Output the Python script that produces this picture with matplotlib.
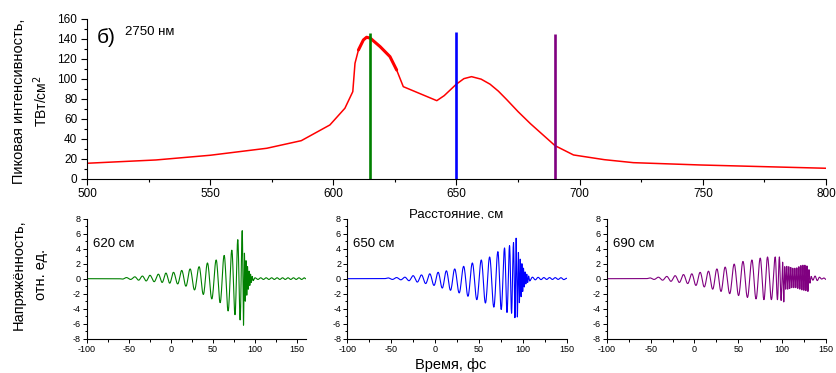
import numpy as np
import matplotlib
matplotlib.use("Agg")
import matplotlib.pyplot as plt
from matplotlib.ticker import MultipleLocator

plt.rcParams['font.family'] = ['Liberation Sans', 'DejaVu Sans']
plt.rcParams['axes.unicode_minus'] = False

# peak intensity vs distance
dist_cm = [500, 528, 550, 573, 587, 598.6, 604.7, 607.9, 608.8, 610.2, 612.2, 613.5,
           615, 619, 623, 625.7, 628.4, 642, 645, 649.9, 653, 656.1, 660, 663.6,
           667, 670.4, 675, 680, 685, 690, 697.5, 710, 721.8, 748.8, 775, 800]
intensity = [15.4, 18.7, 23.4, 30.4, 38, 53.7, 70.4, 87, 115.4, 128.7, 138.7, 141.4,
             140.5, 132, 122, 108.7, 92, 78, 83, 94.4, 100, 102, 99.5, 94.5,
             87.5, 79, 67, 55, 44, 33, 23.7, 19, 16, 13.7, 12, 10.4]
marker_pos = [615, 650, 690]
marker_top = [145.4, 146.4, 145]
marker_col = ['#008000', '#0000ff', '#800080']

# field extrema (time fs, value) for each waveform
t620 = [-100, -62, -57.5, -53, -48, -43, -38.5, -34, -29.5, -25, -20, -15, -10.5, -6, -1.5,
        3, 8, 12.8, 17.8, 22.8, 28, 33.5, 38.5, 43.4, 48.6, 53.8, 58.5, 63.3, 68, 72.4,
        76.2, 79.5, 82.3, 84.8, 86.3, 87.4, 88.4, 89.3, 90.2, 91.1, 92.0, 92.9, 93.8,
        94.7, 95.6, 96.6, 97.8, 100, 103.5, 106.8, 110, 113.3, 116.5, 119.8, 123, 126.3,
        129.5, 132.8, 136, 139.3, 142.5, 145.8, 149, 152.3, 155.5, 158.8, 160]
e620 = [0, 0, -0.05, 0.15, -0.1, 0.25, -0.2, 0.35, -0.3, 0.45, -0.4, 0.6, -0.5, 0.75, -0.6,
        0.85, -0.7, 1.1, -1.0, 1.3, -1.5, 1.6, -2.1, 2.1, -2.7, 2.5, -3.2, 3.1, -4.3, 3.8,
        -4.8, 5.2, -5.5, 6.4, -6.2, 3.4, -3.0, 2.4, -2.2, 1.6, -1.4, 1.0, -0.9,
        0.6, -0.5, 0.3, -0.25, 0.12, -0.1, 0.12, -0.1, 0.12, -0.1, 0.12, -0.1, 0.12,
        -0.1, 0.12, -0.1, 0.12, -0.1, 0.12, -0.1, 0.12, -0.1, 0.12, 0]

t650 = [-100, -58, -53.4, -48.6, -43.9, -39, -34.4, -29.7, -25, -20.2, -15.5, -10.7, -6,
        -1.2, 3.5, 8.2, 12.9, 17.6, 22.4, 27.5, 32.6, 37.5, 42.5, 47.6, 52.7, 57.4, 62.2,
        67, 71.6, 75.4, 79.2, 82, 84.9, 87.2, 89.4, 91, 92.4, 93.8, 95, 96.1, 97.1, 98.1,
        99, 99.9, 100.8, 101.7, 102.6, 103.5, 104.5, 105.5, 106.6, 107.8, 111, 114.3,
        117.5, 120.8, 124, 127.3, 130.5, 133.8, 137, 140.3, 143.5, 146.8, 150]
e650 = [0, 0, 0.1, -0.1, 0.15, -0.15, 0.2, -0.27, 0.4, -0.45, 0.5, -0.65, 0.65,
        -0.9, 0.85, -1.25, 1.05, -1.55, 1.3, -1.9, 1.65, -2.35, 2.1, -2.8, 2.5, -3.25, 2.9,
        -3.8, 3.6, -4.1, 4.1, -4.5, 4.4, -4.6, 4.8, -5.2, 5.4, -5.1, 3.5, -3.2, 2.6, -2.4,
        2.0, -1.7, 1.4, -1.1, 0.9, -0.7, 0.6, -0.5, 0.35, -0.3, 0.2, -0.15,
        0.18, -0.12, 0.15, -0.1, 0.15, -0.1, 0.14, -0.1, 0.13, -0.12, 0.05]

t690 = [-100, -55, -50.6, -46, -41.1, -36.3, -31.5, -26.8, -22, -17.2, -12.5, -7.7, -3,
        1.7, 6.5, 11.2, 16, 20.8, 25.6, 30.3, 35, 40.2, 45.3, 50.3, 55.3, 60.4, 65.5,
        70.2, 75, 79.2, 83.3, 87.7, 92.1, 94.6, 96.8, 98.8, 100.5, 101.8, 102.9, 104.0,
        105.2, 106.3, 107.5, 108.6, 109.8, 110.9, 112.1, 113.2, 114.4, 115.5, 116.7,
        117.8, 119.0, 120.1, 121.3, 122.4, 123.6, 124.7, 125.9, 127.0, 128.2, 129.3,
        130.5, 131.6, 133, 135, 137.5, 140, 142.5, 145, 147.5, 150]
e690 = [0, 0, 0.1, -0.1, 0.2, -0.2, 0.3, -0.35, 0.4, -0.5, 0.55, -0.65, 0.65,
        -0.9, 0.85, -1.1, 1.0, -1.4, 1.3, -1.7, 1.55, -2.0, 1.95, -2.25, 2.3, -2.5, 2.5,
        -2.7, 2.75, -2.8, 2.9, -2.8, 2.9, -2.8, 2.9, -2.9, 2.2, -3.1, 1.6, -1.4,
        1.65, -1.4, 1.6, -1.3, 1.5, -1.2, 1.4, -1.2, 1.4, -1.2, 1.45,
        -1.3, 1.6, -1.4, 1.75, -1.5, 1.8, -1.55, 1.8, -1.6, 1.7, -1.7,
        1.2, -0.6, 0.3, -0.2, 0.35, -0.25, 0.2, -0.05, 0.1, -0.1]

waves = [(t620, e620, '620 см', (-100, 161)),
         (t650, e650, '650 см', (-100, 150)),
         (t690, e690, '690 см', (-100, 150))]


def trace(t, e, n=12):
    # smooth half-cosine between neighbouring extrema
    xs, ys = [], []
    for i in range(len(t) - 1):
        s = np.linspace(0, 1, n, endpoint=False)
        xs.append(t[i] + (t[i + 1] - t[i]) * s)
        ys.append(e[i] + (e[i + 1] - e[i]) * (1 - np.cos(np.pi * s)) / 2)
    xs.append([t[-1]])
    ys.append([e[-1]])
    return np.concatenate(xs), np.concatenate(ys)


fig = plt.figure(figsize=(8.37, 3.73), dpi=100)

ax = fig.add_axes([0.1039, 0.521, 0.883, 0.429])
ax.plot(dist_cm, intensity, color='#ff0000', lw=1.1)
sel = [i for i, d in enumerate(dist_cm) if 610 <= d <= 626]
ax.plot([dist_cm[i] for i in sel], [intensity[i] for i in sel], color='#ff0000',
        lw=2.2, solid_capstyle='round')
for xp, yt, c in zip(marker_pos, marker_top, marker_col):
    ax.vlines(xp, 0, yt, color=c, lw=1.9)
ax.set_xlim(500, 800)
ax.set_ylim(0, 160)
ax.xaxis.set_major_locator(MultipleLocator(50))
ax.xaxis.set_minor_locator(MultipleLocator(25))
ax.yaxis.set_major_locator(MultipleLocator(20))
ax.yaxis.set_minor_locator(MultipleLocator(10))
ax.tick_params(which='major', length=4, width=0.8, labelsize=8.5, pad=3)
ax.tick_params(which='minor', length=2.5, width=0.8)
for s in ['top', 'right']:
    ax.spines[s].set_visible(False)
ax.set_xlabel('Расстояние, см', fontsize=9.5, labelpad=6)
ax.text(504, 135.7, 'б)', fontsize=15, va='baseline')
ax.text(515.4, 143.5, '2750 нм', fontsize=9.5, va='baseline')

lefts = [0.1039, 0.415, 0.7249]
for k, ((t, e, lab, xl), left) in enumerate(zip(waves, lefts)):
    a = fig.add_axes([left, 0.092, 0.262, 0.3217])
    x, y = trace(t, e)
    a.plot(x, y, color=marker_col[k], lw=0.8)
    a.set_xlim(*xl)
    a.set_ylim(-8, 8)
    a.xaxis.set_major_locator(MultipleLocator(50))
    a.xaxis.set_minor_locator(MultipleLocator(25))
    a.yaxis.set_major_locator(MultipleLocator(2))
    a.yaxis.set_minor_locator(MultipleLocator(1))
    a.tick_params(which='major', length=3, width=0.7, labelsize=6.5, pad=1.5)
    a.tick_params(which='minor', length=1.8, width=0.7)
    for s in ['top', 'right']:
        a.spines[s].set_visible(False)
    a.text(xl[0] + 7, 4.27, lab, fontsize=9.5, va='baseline')

fig.text(0.0227, 0.729, 'Пиковая интенсивность,', rotation=90, fontsize=10.5,
         ha='center', va='center')
fig.text(0.049, 0.729, 'ТВт/см$^2$', rotation=90, fontsize=10, ha='center', va='center')
fig.text(0.0227, 0.263, 'Напряжённость,', rotation=90, fontsize=10.5,
         ha='center', va='center')
fig.text(0.049, 0.263, 'отн. ед.', rotation=90, fontsize=10.5, ha='center', va='center')
fig.text(0.538, 0.022, 'Время, фс', fontsize=10.5, ha='center', va='center')

fig.savefig('out.png', dpi=100)
